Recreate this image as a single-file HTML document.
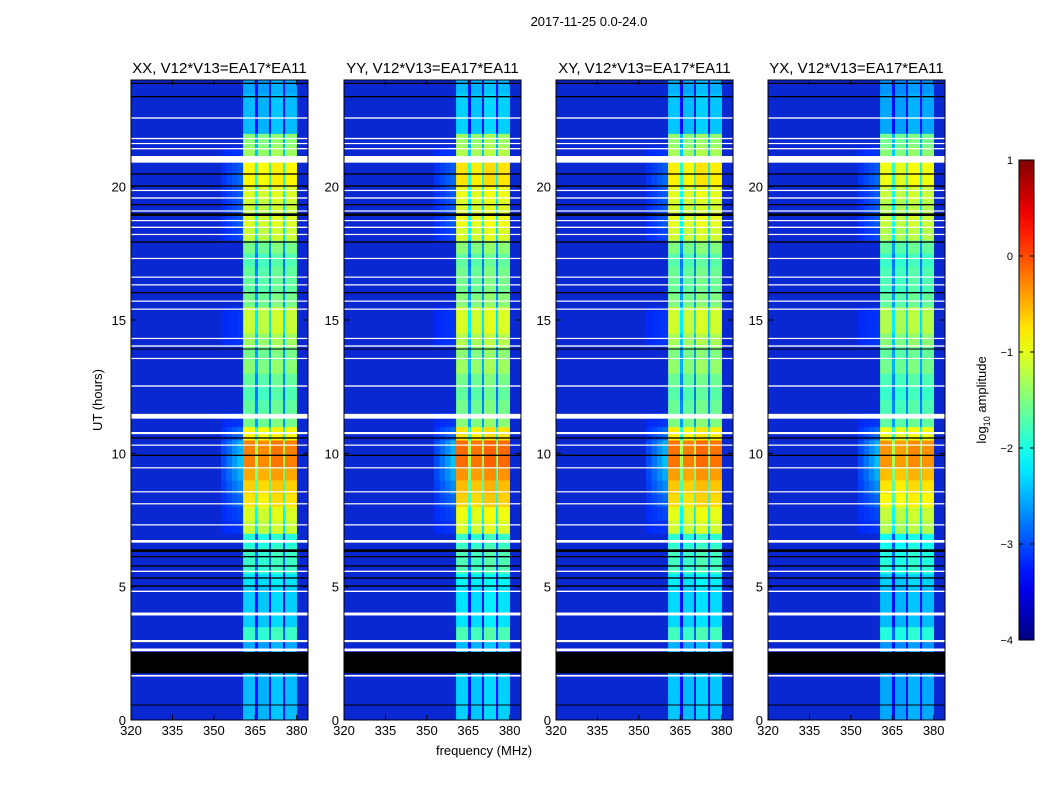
<!DOCTYPE html>
<html><head><meta charset="utf-8"><style>
body{margin:0;background:#fff;}
svg text{font-family:"Liberation Sans",sans-serif;}
</style></head><body>
<svg id="fig" width="1050" height="800" xmlns="http://www.w3.org/2000/svg">
<defs><linearGradient id="jetg" x1="0" y1="1" x2="0" y2="0"></linearGradient></defs>
<text x="589" y="26" font-size="13" text-anchor="middle">2017-11-25 0.0-24.0</text>
<text x="484" y="755" font-size="13" text-anchor="middle">frequency (MHz)</text>
<text transform="translate(102,400) rotate(-90)" font-size="13" text-anchor="middle">UT (hours)</text>
<g id="panels"></g>
<g id="cbar"></g>
</svg>
<script>
// ---- data ----
const panelTitles = ["XX, V12*V13=EA17*EA11","YY, V12*V13=EA17*EA11","XY, V12*V13=EA17*EA11","YX, V12*V13=EA17*EA11"];
const panelOffset = [0, 0.1, 0.05, -0.1];
const binStart = [0,0.5,1,1.5,2,2.5,3,3.5,4,4.5,5,5.5,6,6.5,7,7.5,8,8.5,9,9.5,10,10.5,11,11.5,12,12.5,13,13.5,14,14.5,15,15.5,16,16.5,17,17.5,18,18.5,19,19.5,20,20.5,21,21.5,22,22.5,23,23.5];
const bandAmp = [-2.5,-2.5,-2.5,-2.5,-2.5,-2.6,-1.9,-2.4,-2.4,-2.4,-2.3,-1.9,-1.9,-2.0,-1.2,-1.1,-0.8,-0.7,-0.5,-0.3,-0.3,-0.9,-1.6,-1.7,-1.8,-1.7,-1.5,-1.6,-1.4,-1.2,-1.2,-1.6,-1.7,-1.7,-1.8,-1.6,-1.2,-1.1,-1.2,-1.1,-0.9,-0.9,-1.4,-1.5,-2.5,-2.5,-2.5,-2.6];
const haloAmp = [-3.2,-3.2,-3.2,-3.2,-3.2,-3.2,-3.2,-3.2,-3.2,-3.2,-3.2,-3.2,-3.2,-3.2,-3.1,-3.0,-2.8,-2.6,-2.4,-2.3,-2.4,-2.8,-3.1,-3.2,-3.2,-3.2,-3.2,-3.2,-3.1,-3.1,-3.1,-3.2,-3.2,-3.2,-3.2,-3.2,-3.0,-2.9,-2.9,-2.9,-2.8,-2.9,-3.1,-3.2,-3.2,-3.2,-3.2,-3.2];
const subBands = [[360.6,364.9],[366.0,370.0],[370.7,375.1],[375.8,380.1]];
const subGain = [0.05,0,0.1,0.05];
const whiteGaps = [[1.63,1.69],[2.58,2.68],[2.92,3.0],[3.92,4.03],[4.8,4.85],[5.55,5.6],[6.65,6.75],[7.3,7.34],[8.1,8.13],[8.55,8.58],[9.45,9.48],[10.3,10.33],[10.72,10.8],[11.3,11.48],[12.5,12.55],[13.55,13.58],[14.0,14.05],[14.3,14.33],[15.4,15.43],[15.7,15.73],[16.3,16.34],[16.6,16.63],[17.3,17.33],[18.2,18.23],[18.45,18.5],[18.72,18.75],[19.08,19.11],[19.55,19.6],[19.85,19.88],[20.9,21.15],[21.4,21.45],[21.6,21.64],[21.78,21.83],[22.55,22.6]];
const blackGaps = [[1.75,2.55],[0.55,0.58],[5.0,5.05],[5.3,5.35],[5.75,5.8],[6.1,6.15],[6.3,6.4],[9.9,9.95],[10.55,10.6],[18.9,19.0],[19.3,19.35],[20.0,20.05],[20.45,20.5],[16.0,16.05],[17.9,17.95],[13.9,13.93],[23.35,23.4],[23.85,23.9]];
const xTicks = [320,335,350,365,380];
const yTicks = [0,5,10,15,20];
const cbTicks = [1,0,-1,-2,-3,-4];
const cbLabels = ["1","0","\u22121","\u22122","\u22123","\u22124"];

// ---- helpers ----
const NS="http://www.w3.org/2000/svg";
function mk(tag,attrs,parent){const e=document.createElementNS(NS,tag);for(const k in attrs)e.setAttribute(k,attrs[k]);parent.appendChild(e);return e;}
function clamp01(v){return Math.max(0,Math.min(1,v));}
function jet(v){const x=clamp01((v+4)/5);const r=clamp01(1.5-Math.abs(4*x-3)),g=clamp01(1.5-Math.abs(4*x-2)),b=clamp01(1.5-Math.abs(4*x-1));return `rgb(${Math.round(r*255)},${Math.round(g*255)},${Math.round(b*255)})`;}
const grad=document.getElementById('jetg');
for(let i=0;i<=20;i++){mk('stop',{offset:i/20,'stop-color':jet(-4+5*i/20)},grad);}
const panelLefts=[131,344,556,768], panelW=177, plotTop=80, plotBot=720;
const fMin=320, fMax=384.1, tMin=0, tMax=24;
const bgColor='#0a28d2';
const panelsG=document.getElementById('panels');

panelLefts.forEach((L,p)=>{
  const xs=f=>L+(f-fMin)/(fMax-fMin)*panelW;
  const ys=t=>plotBot-(t-tMin)/(tMax-tMin)*(plotBot-plotTop);
  const g=mk('g',{},panelsG);
  
  
  const bg=mk('rect',{x:L,y:plotTop,width:panelW,height:plotBot-plotTop,fill:bgColor},g);
  
  
  binStart.forEach((t0,i)=>{
    const y1=ys(t0+0.5), h=ys(t0)-y1;
    for(let k=0;k<4;k++){
      if(haloAmp[i]<=-3.15) continue;
      const f0=352.6+k*2;
      const v=-3.2+(haloAmp[i]+3.2)*(0.25+0.25*k);
      const c=mk('rect',{x:xs(f0),y:y1,width:xs(f0+2)-xs(f0)+0.5,height:h+0.5,fill:jet(v),opacity:0.85},g);
      
      
    }
    subBands.forEach((sb,s)=>{
      const c=mk('rect',{x:xs(sb[0]),y:y1,width:xs(sb[1])-xs(sb[0]),height:h+0.5,fill:jet(bandAmp[i]+panelOffset[p]+subGain[s])},g);
      
      
      if(s<3){
        const d=mk('rect',{x:xs(sb[1]),y:y1,width:xs(subBands[s+1][0])-xs(sb[1]),height:h+0.5,fill:jet(Math.max(-3.3,bandAmp[i]-1.0))},g);
        
        
      }
    });
  });
  whiteGaps.forEach(w=>{
    const r=mk('rect',{x:L,y:ys(w[1]),width:panelW,height:Math.max(1.2,ys(w[0])-ys(w[1])),fill:'#fff'},g);
    
    
  });
  blackGaps.forEach(w=>{
    const r=mk('rect',{x:L,y:ys(w[1]),width:panelW,height:Math.max(1,ys(w[0])-ys(w[1])),fill:'#000'},g);
    
    
  });
  const fr=mk('rect',{x:L,y:plotTop,width:panelW,height:plotBot-plotTop,fill:'none',stroke:'#000','stroke-width':1},g);
  
  
  const tt=mk('text',{x:L+panelW/2,y:plotTop-7,'font-size':15,'text-anchor':'middle'},g);
  tt.textContent=panelTitles[p];
  
  
  xTicks.forEach(f=>{
    const x=xs(f);
    mk('line',{x1:x,y1:plotBot,x2:x,y2:plotBot-5,stroke:'#000'},g);
    mk('line',{x1:x,y1:plotTop,x2:x,y2:plotTop+5,stroke:'#000'},g);
    const t=mk('text',{x:x,y:plotBot+15,'font-size':13,'text-anchor':'middle'},g);
    t.textContent=f;
    
    
  });
  yTicks.forEach(v=>{
    const y=ys(v);
    mk('line',{x1:L,y1:y,x2:L+5,y2:y,stroke:'#000'},g);
    mk('line',{x1:L+panelW,y1:y,x2:L+panelW-5,y2:y,stroke:'#000'},g);
    const t=mk('text',{x:L-5,y:y+5,'font-size':13,'text-anchor':'end'},g);
    t.textContent=v;
    
    
  });
});

// colorbar
const cbG=document.getElementById('cbar');
const cbx=1019,cbw=15,cbt=160,cbb=640;
const cbRect=mk('rect',{x:cbx,y:cbt,width:cbw,height:cbb-cbt,fill:'url(#jetg)',stroke:'#000'},cbG);


const cby=v=>cbb-(v+4)/5*(cbb-cbt);
cbTicks.forEach((v,i)=>{
  const y=cby(v);
  mk('line',{x1:cbx,y1:y,x2:cbx+4,y2:y,stroke:'#000'},cbG);
  mk('line',{x1:cbx+cbw,y1:y,x2:cbx+cbw-4,y2:y,stroke:'#000'},cbG);
  const t=mk('text',{x:1013,y:y+4,'font-size':11,'text-anchor':'end'},cbG);
  t.textContent=cbLabels[i];
  
  
});
const cbTitle=mk('text',{transform:'translate(986,400) rotate(-90)','font-size':13,'text-anchor':'middle'},cbG);
cbTitle.innerHTML='log<tspan font-size="9" dy="4">10</tspan><tspan dy="-4"> amplitude</tspan>';


</script>
</body></html>
